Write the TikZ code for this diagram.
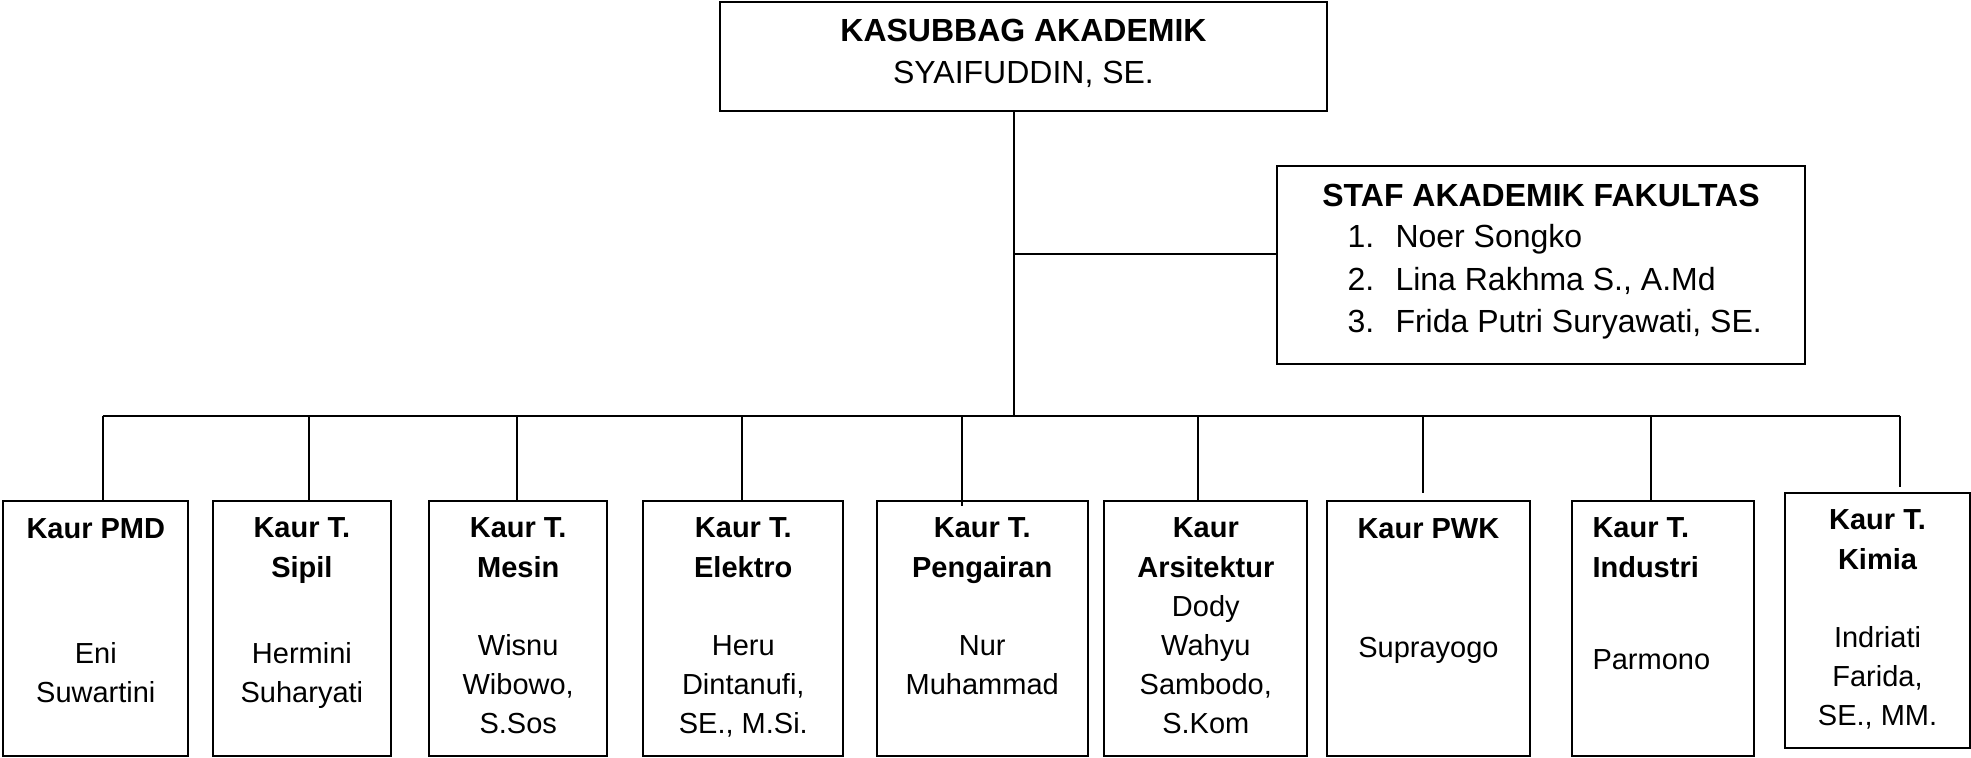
\documentclass[tikz,border=0pt]{standalone}
\usepackage{fontspec}
\setmainfont{Liberation Sans}

\begin{document}
\begin{tikzpicture}[x=0.4pt, y=-0.4pt,
    box/.style={draw, line width=0.7pt, inner sep=0pt},
    garis/.style={line width=0.7pt},
    judul/.style={font=\fontsize{12.8}{16.8}\selectfont, align=center, anchor=base, inner sep=0pt},
    kaur/.style={font=\bfseries\fontsize{11.6}{15.6}\selectfont, align=center, anchor=base, inner sep=0pt},
    nama/.style={font=\fontsize{11.6}{15.6}\selectfont, align=center, anchor=base, inner sep=0pt}]
      \def\u{0.4pt}
      \def\h{255*\u}
      \useasboundingbox (0,0) rectangle (1971,758);
      % (a multi-line node sits on the baseline of its last line)
      \node[box, minimum width=607*\u, minimum height=109*\u] (kasubbag) at (1023.5,56.5) {};   % top
      \node[judul] (kasubbagT) at (1023.5,84) {\textbf{KASUBBAG AKADEMIK}\\SYAIFUDDIN, SE.};
      \node[box, minimum width=528*\u, minimum height=198*\u] (staf) at (1541,265) {};          % staff
      \node[judul, font=\bfseries\fontsize{12.8}{16.8}\selectfont] (stafT) at (1541,207) {STAF AKADEMIK FAKULTAS};
      \node[judul, font=\fontsize{12.8}{17}\selectfont, align=left, anchor=base west] (stafN) at (1347,333)
        {\makebox[19.2pt][l]{1.}Noer Songko\\\makebox[19.2pt][l]{2.}Lina Rakhma S., A.Md\\\makebox[19.2pt][l]{3.}Frida Putri Suryawati, SE.};
      %%
      \node[box, minimum width=185*\u, minimum height=\h] (pmd) at (95.8,628.4) {};          % 1
      \node[kaur] (pmdK) at (95.8,538) {Kaur PMD};
      \node[nama] (pmdN) at (95.8,702) {Eni\\Suwartini};
      \node[box, minimum width=178.3*\u, minimum height=\h] (sipil) at (301.9,628.4) {};     % 2
      \node[kaur] (sipilK) at (301.9,577) {Kaur T.\\Sipil};
      \node[nama] (sipilN) at (301.9,702) {Hermini\\Suharyati};
      \node[box, minimum width=178.3*\u, minimum height=\h] (mesin) at (518.2,628.4) {};     % 3
      \node[kaur] (mesinK) at (518.2,577) {Kaur T.\\Mesin};
      \node[nama] (mesinN) at (518.2,733) {Wisnu\\Wibowo,\\S.Sos};
      \node[box, minimum width=200*\u, minimum height=\h] (elektro) at (743.3,628.4) {};     % 4
      \node[kaur] (elektroK) at (743.3,577) {Kaur T.\\Elektro};
      \node[nama] (elektroN) at (743.3,733) {Heru\\Dintanufi,\\SE., M.Si.};
      \node[box, minimum width=211*\u, minimum height=\h] (pengairan) at (982.2,628.4) {};   % 5
      \node[kaur] (pengairanK) at (982.2,577) {Kaur T.\\Pengairan};
      \node[nama] (pengairanN) at (982.2,694) {Nur\\Muhammad};
      \node[box, minimum width=203*\u, minimum height=\h] (arsitektur) at (1205.8,628.4) {}; % 6
      \node[kaur] (arsitekturK) at (1205.8,577) {Kaur\\Arsitektur};
      \node[nama] (arsitekturN) at (1205.8,733) {Dody\\Wahyu\\Sambodo,\\S.Kom};
      \node[box, minimum width=203.3*\u, minimum height=\h] (pwk) at (1428.4,628.4) {};      % 7
      \node[kaur] (pwkK) at (1428.4,538) {Kaur PWK};
      \node[nama] (pwkN) at (1428.4,657) {Suprayogo};
      \node[box, minimum width=182.6*\u, minimum height=\h] (industri) at (1663,628.4) {};   % 8
      \node[kaur, align=left, anchor=base west] (industriK) at (1592,577) {Kaur T.\\Industri};
      \node[nama, align=left, anchor=base west] (industriN) at (1592,669) {Parmono};
      \node[box, minimum width=185*\u, minimum height=\h] (kimia) at (1877.5,620.4) {};      % 9
      \node[kaur] (kimiaK) at (1877.5,569) {Kaur T.\\Kimia};
      \node[nama] (kimiaN) at (1877.5,725) {Indriati\\Farida,\\SE., MM.};
      %
      \coordinate (pusat) at (1014,416);
      \coordinate (cabang) at (1014,254);
      \coordinate (tPmd) at (102.7,416);
      \coordinate (tSipil) at (308.7,416);
      \coordinate (tMesin) at (517.3,416);
      \coordinate (tElektro) at (742.3,416);
      \coordinate (tPengairan) at (961.7,416);
      \coordinate (tArsitektur) at (1198,416);
      \coordinate (tPwk) at (1422.7,416);
      \coordinate (tIndustri) at (1650.7,416);
      \coordinate (tKimia) at (1900,416);
      %
      \draw[garis] (kasubbag.south -| pusat) -- (pusat);
      \draw[garis] (cabang) -- (cabang -| staf.west);
      \draw[garis] (tPmd) -- (tKimia);
      \draw[garis] (tPmd) -- (tPmd |- pmd.north);
      \draw[garis] (tSipil) -- (tSipil |- sipil.north);
      \draw[garis] (tMesin) -- (tMesin |- mesin.north);
      \draw[garis] (tElektro) -- (tElektro |- elektro.north);
      \draw[garis] (tPengairan) -- ([yshift=-2.4pt]tPengairan |- pengairan.north);
      \draw[garis] (tArsitektur) -- (tArsitektur |- arsitektur.north);
      \draw[garis] (tPwk) -- ([yshift=3pt]tPwk |- pwk.north);
      \draw[garis] (tIndustri) -- (tIndustri |- industri.north);
      \draw[garis] (tKimia) -- ([yshift=2pt]tKimia |- kimia.north);
      %
\end{tikzpicture}
\end{document}
